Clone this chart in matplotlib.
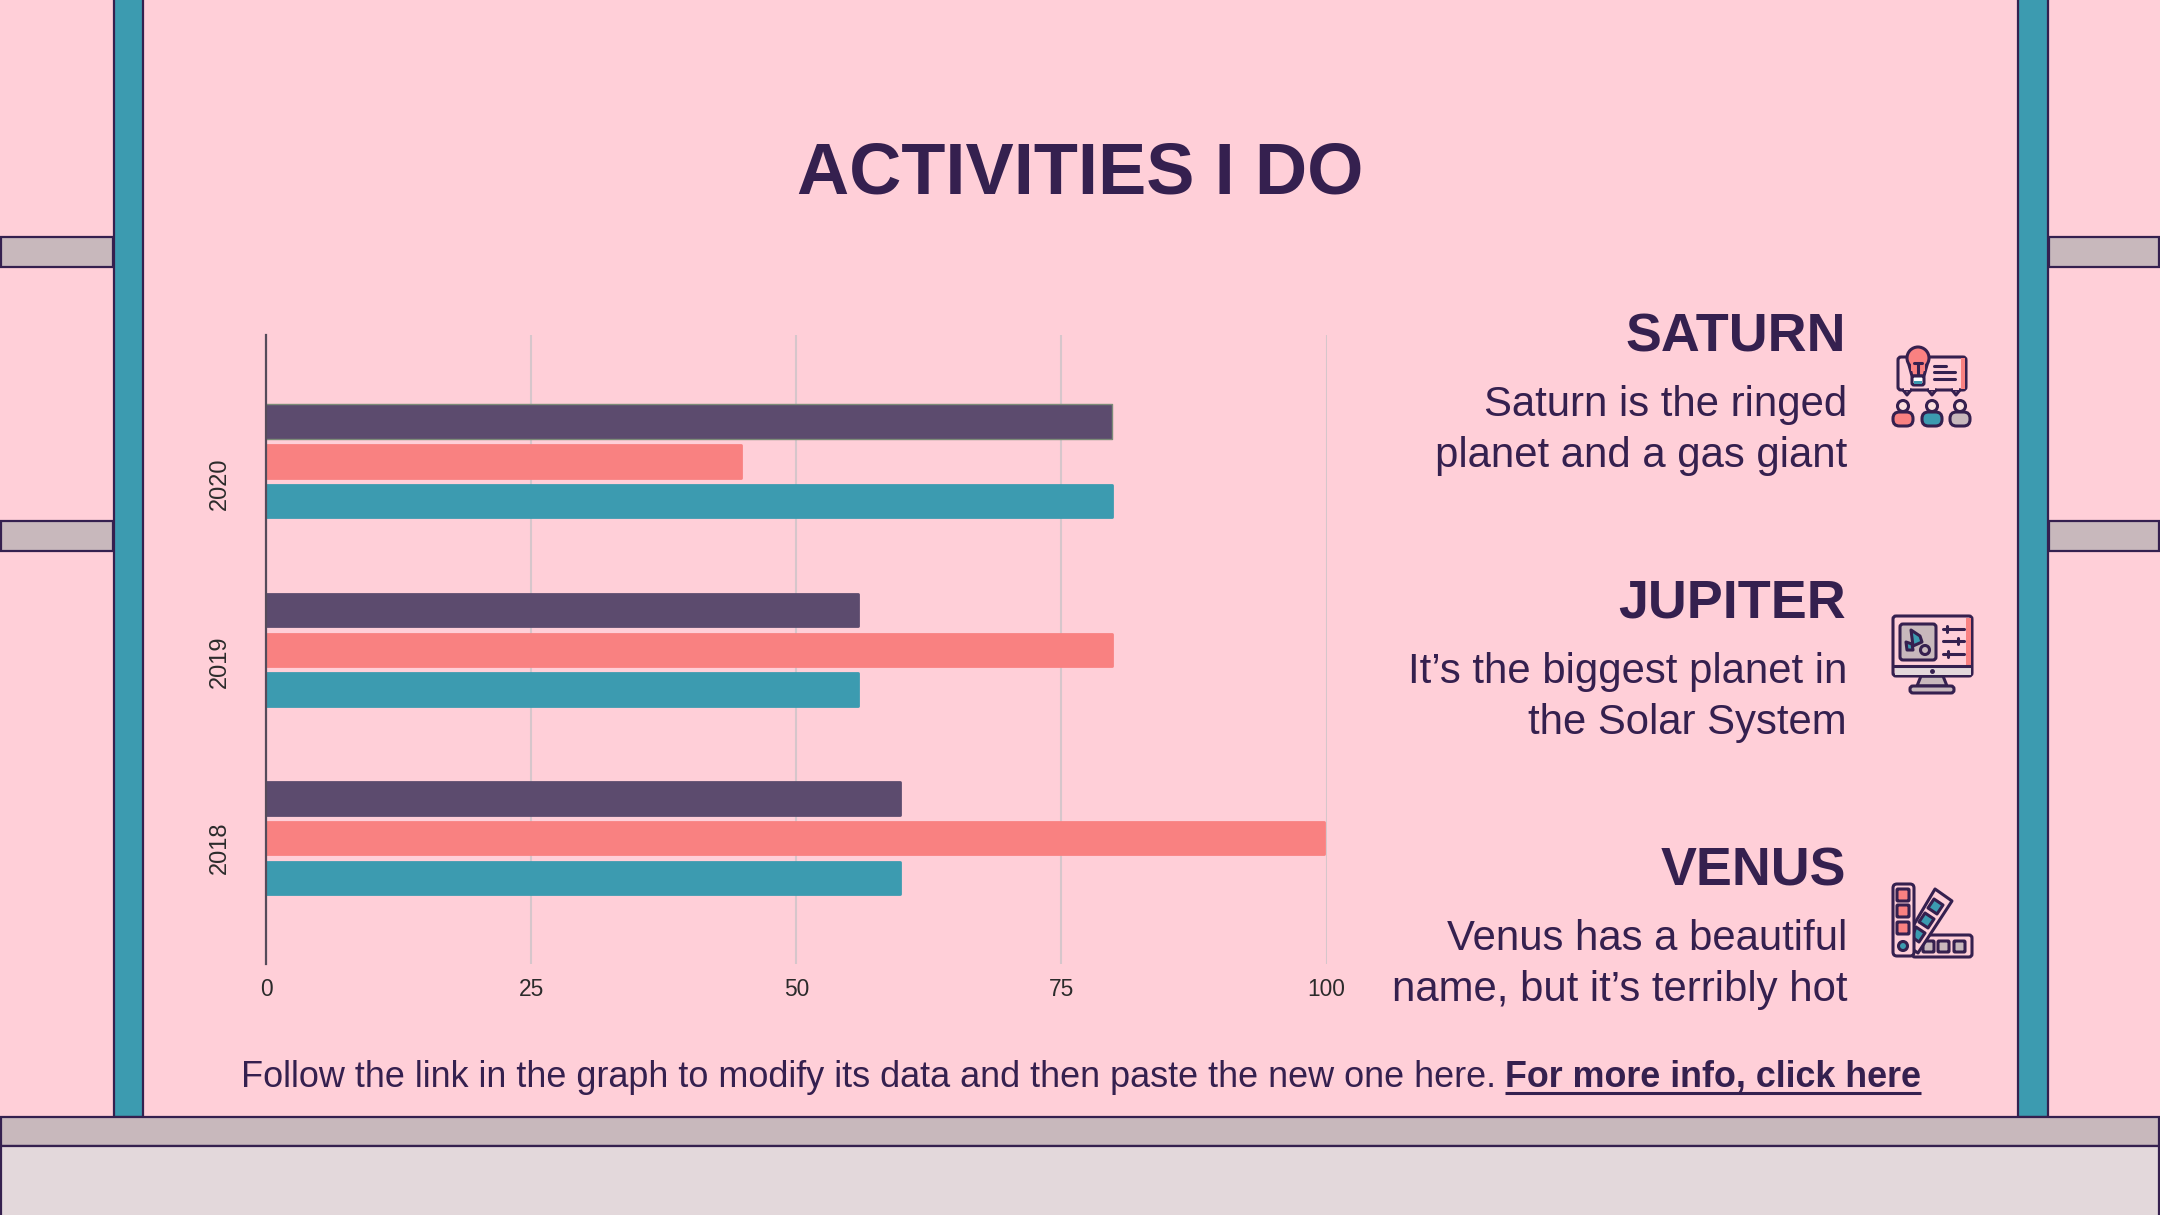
import matplotlib
matplotlib.use("Agg")
import matplotlib.pyplot as plt
from matplotlib.patches import Rectangle, FancyBboxPatch, Circle, Polygon
from matplotlib.transforms import ScaledTranslation

plt.rcParams['font.family'] = ['Liberation Sans', 'DejaVu Sans']

# ---- data ----
years = ['2018', '2019', '2020']
series_top = [60, 56, 80]
series_mid = [100, 80, 45]
series_low = [60, 56, 80]
x_ticks = [0, 25, 50, 75, 100]

title = 'ACTIVITIES I DO'
items = [('SATURN', 'Saturn is the ringed', 'planet and a gas giant'),
         ('JUPITER', 'It\u2019s the biggest planet in', 'the Solar System'),
         ('VENUS', 'Venus has a beautiful', 'name, but it\u2019s terribly hot')]
foot_a = 'Follow the link in the graph to modify its data and then paste the new one here.'
foot_b = 'For more info, click here'

BG = '#FFCFD8'; INK = '#35204F'; TEAL = '#3C9BB0'; SALMON = '#F98181'
PURPLE = '#5C4B6E'; TAUPE = '#C8B8BC'; PALE = '#E3D8DB'; GRID = '#D6C6CB'

W, H = 2160, 1215
fig = plt.figure(figsize=(W / 100, H / 100), dpi=100, facecolor=BG)

# ---- overlay in pixel coordinates ----
ov = fig.add_axes([0, 0, 1, 1], zorder=0)
ov.set_xlim(0, W); ov.set_ylim(H, 0); ov.axis('off')

def rect(x0, y0, x1, y1, fc, ec=INK, lw=1.6, z=2):
    ov.add_patch(Rectangle((x0, y0), x1 - x0, y1 - y0, fc=fc, ec=ec, lw=lw, zorder=z))

def rr(x0, y0, x1, y1, r, fc='none', ec=INK, lw=2.2, z=5):
    ov.add_patch(FancyBboxPatch((x0 + r, y0 + r), x1 - x0 - 2 * r, y1 - y0 - 2 * r,
                                boxstyle=f'round,pad={r},rounding_size={r}',
                                fc=fc, ec=ec, lw=lw, zorder=z))

def line(xs, ys, lw=2.2, z=6, c=INK):
    ov.plot(xs, ys, color=c, lw=lw, zorder=z, solid_capstyle='round', solid_joinstyle='round')

def circ(x, y, r, fc, lw=2.2, z=6):
    ov.add_patch(Circle((x, y), r, fc=fc, ec=INK, lw=lw, zorder=z))

def poly(pts, fc, lw=2.2, z=5):
    ov.add_patch(Polygon(pts, closed=True, fc=fc, ec=INK, lw=lw, joinstyle='round', zorder=z))

# building frame
for y0 in (237, 521):
    rect(1, y0, 113, y0 + 30, TAUPE)
    rect(2049, y0, 2159, y0 + 30, TAUPE)
rect(114, -5, 143, 1117, TEAL)
rect(2018, -5, 2048, 1117, TEAL)
rect(1, 1117, 2159, 1146, TAUPE, z=3)
rect(1, 1146, 2159, 1220, PALE, z=3)

# ---- chart ----
ax = fig.add_axes([266 / W, 1 - 964 / H, (1326.6 - 266) / W, (964 - 335) / H], zorder=1)
ax.patch.set_alpha(0)
pos = list(range(len(years)))
h = 0.172
off = 39.7 / 188.25
ax.set_xlim(0, 100)
ax.set_ylim(-0.669, 2.672)
nudge = ScaledTranslation(-0.022, 0, fig.dpi_scale_trans)
def barset(vals, d, col):
    bars = ax.barh([p + d for p in pos], vals, height=h, color=col, edgecolor=col,
                   linewidth=2.0, joinstyle='round', zorder=2)
    for b in bars:
        b.set_transform(ax.transData + nudge)
    return bars
top = barset(series_top, off, PURPLE)
barset(series_mid, 0, SALMON)
barset(series_low, -off, TEAL)
top[2].set_edgecolor('#7C8B78')
top[2].set_linewidth(1.0)
top[2].set_y(top[2].get_y() - 0.006)
top[2].set_height(h + 0.015)
ax.set_xticks(x_ticks)
ax.set_yticks(pos)
ax.set_yticklabels(years, rotation=90, va='center', fontsize=17, color='#2B2B2B')
ax.tick_params(axis='both', length=0)
ax.tick_params(axis='x', labelsize=16.4, labelcolor='#2B2B2B', pad=10)
ax.tick_params(axis='y', pad=25)
for lab, dy in zip(ax.get_yticklabels(), (-0.10, -0.12, -0.22)):
    lab.set_transform(lab.get_transform() + ScaledTranslation(0, dy, fig.dpi_scale_trans))
ax.grid(axis='x', color=GRID, lw=1.5, zorder=0)
ax.set_axisbelow(True)
for s in ('top', 'right', 'bottom'):
    ax.spines[s].set_visible(False)
ax.spines['left'].set_color('#554B5A')
ax.spines['left'].set_linewidth(1.6)

# ---- text ----
ov.text(1080, 174, title, ha='center', va='center', fontsize=52, fontweight='bold', color=INK)
ys = [(337, 405, 456), (604, 672, 723), (871, 939, 990)]
for (hd, a, b), (y0, y1, y2) in zip(items, ys):
    ov.text(1846, y0, hd, ha='right', va='center', fontsize=38.8, fontweight='bold', color=INK)
    ov.text(1847, y1, a, ha='right', va='center', fontsize=30.2, color=INK)
    ov.text(1847, y2, b, ha='right', va='center', fontsize=30.2, color=INK)

ov.text(241, 1087, foot_a, ha='left', va='baseline', fontsize=25.94, color=INK)
ft = ov.text(1505, 1087, foot_b, ha='left', va='baseline', fontsize=25.85, fontweight='bold', color=INK)
fig.canvas.draw()
bb = ft.get_window_extent()
ov.plot([bb.x0, bb.x1], [1093, 1093], color=INK, lw=2.2, zorder=4, solid_capstyle='butt')

# ---- icon 1: idea / audience ----
rr(1898, 357, 1966, 390, 3, fc=BG)
ov.add_patch(Rectangle((1961, 358), 4, 31, fc=SALMON, ec='none', zorder=5.5))
for xt in (1907, 1932, 1956):
    poly([(xt - 4, 390), (xt + 4, 390), (xt, 395)], BG, z=6)
    ov.add_patch(Rectangle((xt - 3, 387), 6, 3, fc=BG, ec='none', zorder=6.5))
poly([(1909, 365), (1927, 365), (1924, 376), (1912, 376)], SALMON, z=7)
circ(1918, 358, 11, SALMON, z=7)
ov.add_patch(Rectangle((1911, 362), 14, 9, fc=SALMON, ec='none', zorder=7.5))
rr(1912, 376, 1924, 385, 2, fc='white', z=7)
ov.add_patch(Rectangle((1914, 381), 8, 3, fc=TEAL, ec='none', zorder=8))
line([1914, 1922], [363, 363], z=8); line([1918, 1918], [363, 375], z=8)
line([1934, 1946], [366, 366]); line([1934, 1955], [372, 372]); line([1934, 1955], [379, 379])
for x, c in ((1903, SALMON), (1932, TEAL), (1960, TAUPE)):
    rr(x - 10, 412, x + 10, 426, 6.5, fc=c)
    circ(x, 406, 5.5, '#FBE0DF', z=6)

# ---- icon 2: monitor ----
poly([(1921, 676), (1943, 676), (1947, 686), (1917, 686)], TAUPE, z=4)
rr(1910, 686, 1954, 693, 3, fc=TAUPE)
rr(1893, 616, 1972, 676, 3, fc=BG)
ov.add_patch(Rectangle((1966, 618), 5, 48, fc=SALMON, ec='none', zorder=5.5))
ov.add_patch(Rectangle((1895, 667), 76, 8, fc=PALE, ec='none', zorder=5.5))
line([1894, 1971], [666, 666]); ov.plot([1932], [671], 'o', ms=2.5, color=INK, zorder=7)
rr(1900, 624, 1936, 660, 3, fc=TAUPE)
poly([(1911, 630), (1920, 636), (1922, 642), (1913, 646)], TEAL, z=7)
poly([(1906, 642), (1912, 644), (1913, 650), (1907, 650)], TEAL, z=7)
circ(1925, 650, 4.5, TAUPE, z=7)
for y, xm in ((629, 1947), (641, 1958), (654, 1948)):
    line([1943, 1964], [y, y]); line([xm, xm], [y - 3, y + 3])

# ---- icon 3: swatches ----
rr(1912, 935, 1972, 957, 3, fc=BG)
for x in (1923, 1938, 1954):
    rr(x, 941, x + 11, 952, 1, fc=TAUPE, z=6)
poly([(1935, 889), (1952, 901), (1918, 953), (1903, 943)], BG, z=6)
poly([(1934, 899), (1943, 905), (1937, 914), (1928, 908)], TEAL, z=7)
poly([(1925, 913), (1934, 919), (1928, 928), (1919, 922)], TEAL, z=7)
poly([(1916, 927), (1925, 933), (1919, 942), (1912, 937)], TEAL, z=7)
ov.add_patch(FancyBboxPatch((1896, 887), 15, 66, boxstyle='round,pad=3,rounding_size=4',
                            fc=BG, ec=INK, lw=2.2, zorder=8))
for y in (889, 905, 922):
    rr(1897, y, 1909, y + 12, 1, fc=SALMON, z=9)
circ(1903, 946, 4.5, TEAL, z=9)

fig.savefig('out.png', dpi=100, facecolor=BG)
